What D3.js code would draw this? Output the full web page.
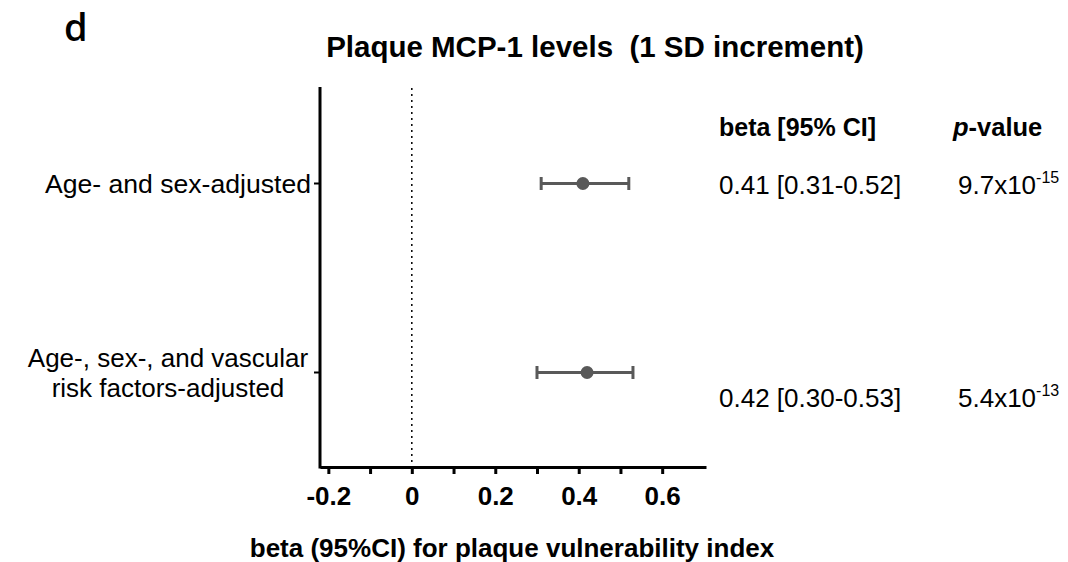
<!DOCTYPE html>
<html>
<head>
<meta charset="utf-8">
<script src="https://cdn.jsdelivr.net/npm/d3@7"></script>
<style>
  body { margin: 0; background: #fff; }
  svg { font-family: "Liberation Sans", Arial, sans-serif; }
</style>
</head>
<body>
<svg id="chart" width="1068" height="562"></svg>
<script>
// data
let rowLabels = [["Age- and sex-adjusted"], ["Age-, sex-, and vascular", "risk factors-adjusted"]];
let beta = [0.41, 0.42];
let lower = [0.31, 0.30];
let upper = [0.52, 0.53];
let ciText = ["0.41 [0.31-0.52]", "0.42 [0.30-0.53]"];
let pBase = ["9.7x10", "5.4x10"];
let pExp = ["-15", "-13"];
let majorTicks = [-0.2, 0, 0.2, 0.4, 0.6];
let minorTicks = [-0.1, 0.1, 0.3, 0.5];

let svg = d3.select("#chart");
let grey = "#595959";

let x = d3.scaleLinear().domain([-0.22, 0.705]).range([320, 706]);
let y = d3.scaleBand().domain([0, 1]).range([89, 467]);
let yc = function (i) { return y(i) + y.bandwidth() / 2; };

// panel letter + title
svg.append("text").attr("x", 64).attr("y", 41)
    .style("font-family", "'Open Sans', sans-serif")
    .style("font-size", "38px").style("font-weight", "600").text("d");
svg.append("text").attr("x", 595).attr("y", 57).attr("text-anchor", "middle")
    .style("font-size", "29.5px").style("font-weight", "bold")
    .attr("xml:space", "preserve")
    .text("Plaque MCP-1 levels  (1 SD increment)");

// x axis
let xAxis = svg.append("g").attr("transform", "translate(0,467)")
    .call(d3.axisBottom(x).tickValues(majorTicks).tickSize(7).tickSizeOuter(0)
        .tickFormat(function (d) { return d === 0 ? "0" : d3.format(".1f")(d).replace("\u2212", "-"); }));
xAxis.select(".domain").attr("stroke-width", 3);
xAxis.selectAll(".tick line").attr("stroke-width", 3);
xAxis.selectAll(".tick text").attr("dy", null).attr("y", 38)
    .style("font-size", "26px").style("font-weight", "bold")
    .style("font-family", "'Liberation Sans', Arial, sans-serif");
let xMinor = svg.append("g").attr("transform", "translate(0,467)")
    .call(d3.axisBottom(x).tickValues(minorTicks).tickSize(7).tickFormat(""));
xMinor.select(".domain").remove();
xMinor.selectAll(".tick line").attr("stroke-width", 3);

svg.append("text").attr("x", 512).attr("y", 557).attr("text-anchor", "middle")
    .style("font-size", "26px").style("font-weight", "bold")
    .text("beta (95%CI) for plaque vulnerability index");

// y axis
svg.append("line").attr("x1", 320).attr("x2", 320).attr("y1", 87).attr("y2", 468.5)
    .attr("stroke", "#000").attr("stroke-width", 3);
let yAxis = svg.append("g").attr("transform", "translate(320,0)")
    .call(d3.axisLeft(y).tickSize(6).tickFormat(""));
yAxis.select(".domain").remove();
yAxis.selectAll(".tick line").attr("stroke-width", 2);

rowLabels.forEach(function (lines, i) {
    let t = svg.append("text")
        .attr("text-anchor", lines.length > 1 ? "middle" : "end")
        .style("font-size", lines.length > 1 ? "26px" : "26.6px");
    let tx = lines.length > 1 ? 168 : 311;
    let ty = lines.length > 1 ? yc(i) - 6 : yc(i) + 9;
    lines.forEach(function (l, j) {
        t.append("tspan").attr("x", tx).attr("y", ty + j * 30).text(l);
    });
});

// zero reference line
svg.append("line").attr("x1", x(0)).attr("x2", x(0)).attr("y1", 88).attr("y2", 466)
    .attr("stroke", "#000").attr("stroke-width", 1.5).attr("stroke-dasharray", "2,4");

// error bars
let rows = svg.selectAll(".row").data(beta).enter().append("g").attr("class", "row");
rows.append("line")
    .attr("x1", function (d, i) { return x(lower[i]); })
    .attr("x2", function (d, i) { return x(upper[i]); })
    .attr("y1", function (d, i) { return yc(i); })
    .attr("y2", function (d, i) { return yc(i); })
    .attr("stroke", grey).attr("stroke-width", 3);
rows.selectAll(".cap").data(function (d, i) { return [[lower[i], i], [upper[i], i]]; })
    .enter().append("line")
    .attr("x1", function (d) { return x(d[0]); })
    .attr("x2", function (d) { return x(d[0]); })
    .attr("y1", function (d) { return yc(d[1]) - 6.5; })
    .attr("y2", function (d) { return yc(d[1]) + 6.5; })
    .attr("stroke", grey).attr("stroke-width", 3);
rows.append("circle")
    .attr("cx", function (d) { return x(d); })
    .attr("cy", function (d, i) { return yc(i); })
    .attr("r", 6.5).attr("fill", grey);

// table on the right
svg.append("text").attr("x", 719).attr("y", 136)
    .style("font-size", "25px").style("font-weight", "bold").text("beta [95% CI]");
let ph = svg.append("text").attr("x", 953).attr("y", 136)
    .style("font-size", "25.5px").style("font-weight", "bold");
ph.append("tspan").style("font-style", "italic").text("p");
ph.append("tspan").text("-value");

let textY = [yc(0) + 10, 407];
ciText.forEach(function (c, i) {
    svg.append("text").attr("x", 719).attr("y", textY[i])
        .style("font-size", "26px").text(c);
    let p = svg.append("text").attr("x", 958).attr("y", textY[i])
        .style("font-size", "26px");
    p.append("tspan").text(pBase[i]);
    p.append("tspan").attr("dy", -11).style("font-size", "16px").text(pExp[i]);
});
</script>
</body>
</html>
